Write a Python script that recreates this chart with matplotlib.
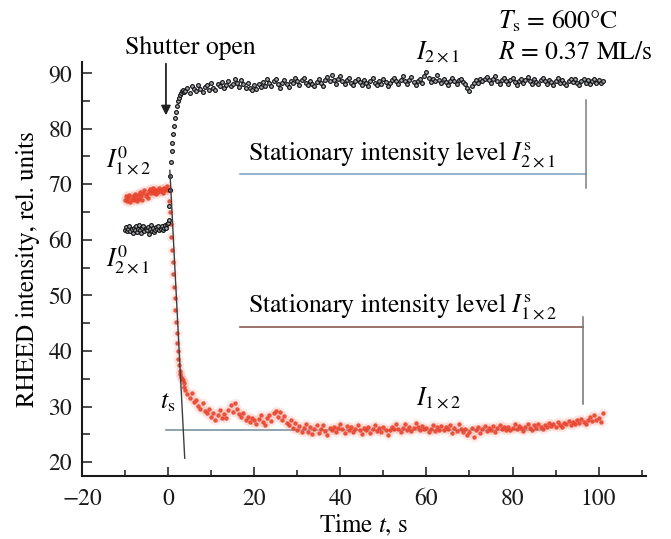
import numpy as np
import matplotlib
matplotlib.use("Agg")
import matplotlib.pyplot as plt
from matplotlib.ticker import MultipleLocator

plt.rcParams['font.family'] = ['STIXGeneral', 'DejaVu Serif']
plt.rcParams['mathtext.fontset'] = 'stix'

# ---------------- data ----------------
# pre-shutter samples (t = -10 ... 0, step 0.25)
t_pre = np.arange(-10.0, 0.001, 0.25)
black_pre = [61.8, 62.3, 61.5, 61.9, 62.4, 61.6, 62.0, 61.3, 62.2, 61.7, 62.5,
             61.4, 61.9, 62.6, 61.8, 61.2, 62.1, 62.4, 61.5, 62.0, 61.7, 62.3,
             61.1, 61.9, 62.6, 61.6, 62.2, 61.4, 61.8, 62.3, 61.9, 62.5, 61.7,
             62.0, 62.4, 61.8, 62.2, 62.7, 62.1, 62.8, 63.0]
red_pre = [67.2, 67.8, 67.0, 67.5, 68.1, 66.8, 67.4, 67.9, 67.1, 68.3, 67.6,
           66.9, 68.0, 67.4, 68.6, 67.8, 67.2, 68.4, 68.9, 67.9, 68.3, 67.6,
           68.8, 69.2, 68.4, 68.7, 69.3, 68.5, 68.9, 68.2, 69.0, 68.6, 69.4,
           68.8, 69.1, 68.5, 69.3, 68.9, 69.2, 69.6, 69.0]

# transition after shutter opening
t_rise_black = [0.1, 0.25, 0.4, 0.55, 0.7, 0.85, 1.0, 1.2, 1.4, 1.6, 1.8, 2.0,
                2.25, 2.5, 2.75, 3.0, 3.25, 3.5, 3.75]
black_rise = [63.5, 66.0, 69.0, 71.5, 74.0, 76.0, 77.5, 79.0, 80.5, 82.0, 83.0,
              84.0, 85.0, 85.5, 86.0, 86.5, 86.8, 87.0, 86.6]
t_fall_red = [0.15, 0.3, 0.45, 0.6, 0.75, 0.9, 1.05, 1.2, 1.35, 1.5, 1.65, 1.8,
              1.95, 2.1, 2.25, 2.4, 2.55, 2.7, 2.85, 3.0, 3.2, 3.4, 3.6, 3.8]
red_fall = [69.0, 67.0, 65.0, 62.8, 60.5, 58.2, 56.0, 53.8, 51.6, 49.5, 47.3,
            45.2, 43.3, 41.5, 40.0, 38.6, 37.4, 36.4, 35.8, 35.4, 35.0, 34.7,
            34.2, 33.6]

# stationary part (t = 4 ... 101, step 0.5)
t_post = np.arange(4.0, 101.001, 0.5)
black_post = [
    86.8, 87.4, 86.5, 87.6, 87.1, 86.7, 87.8, 87.2, 86.6, 87.5,
    87.9, 87.0, 88.2, 87.4, 86.9, 88.0, 87.6, 88.4, 87.3, 87.9,
    88.6, 87.7, 88.1, 89.0, 88.3, 87.5, 88.7, 88.0, 87.4, 88.2,
    87.3, 86.9, 87.8, 87.2, 88.1, 87.5, 88.4, 87.7, 88.9, 88.2,
    87.6, 88.5, 88.9, 88.0, 87.4, 88.3, 88.8, 88.1, 87.5, 88.6,
    88.2, 89.1, 88.5, 87.8, 88.7, 89.2, 88.3, 87.9, 88.6, 88.0,
    87.6, 88.4, 89.0, 88.2, 87.7, 88.8, 89.3, 88.5, 89.6, 88.7,
    88.1, 88.9, 89.4, 88.6, 88.0, 88.7, 89.2, 88.3, 87.8, 88.5,
    89.0, 88.4, 87.9, 88.8, 88.2, 87.6, 88.5, 89.1, 88.3, 87.9,
    88.6, 88.1, 88.9, 88.4, 87.7, 88.3, 88.8, 89.2, 88.5, 88.0,
    88.7, 89.4, 88.6, 88.1, 88.8, 89.3, 88.4, 87.9, 88.6, 89.0,
    88.3, 89.5, 90.2, 89.1, 88.4, 89.0, 88.6, 89.7, 88.8, 88.2,
    88.9, 88.4, 87.9, 88.5, 89.1, 88.6, 88.0, 88.7, 89.0, 88.4,
    88.1, 87.4, 86.8, 87.6, 88.3, 88.8, 88.2, 89.0, 88.5, 88.9,
    89.3, 88.7, 88.2, 88.9, 89.4, 88.6, 88.1, 88.8, 89.2, 88.5,
    88.0, 88.7, 89.1, 88.4, 87.9, 88.6, 89.0, 88.3, 88.8, 89.3,
    88.6, 88.1, 88.9, 88.4, 88.0, 88.7, 89.2, 88.5, 88.1, 88.8,
    88.4, 87.9, 88.6, 89.1, 88.3, 88.8, 88.2, 87.8, 88.5, 89.0,
    88.4, 88.9, 88.3, 87.9, 88.6, 89.0, 88.2, 88.7, 88.1, 88.5,
    88.9, 88.3, 88.7, 88.2, 88.6]
red_post = [
    33.0, 32.2, 31.5, 32.4, 30.8, 31.2, 30.1, 29.5, 30.6, 29.2,
    28.8, 29.6, 28.1, 28.9, 27.6, 28.4, 29.3, 28.0, 28.7, 27.9,
    29.4, 30.2, 29.1, 30.6, 29.5, 28.6, 28.1, 28.9, 27.5, 28.2,
    27.3, 28.0, 27.6, 26.9, 27.8, 28.4, 27.2, 26.7, 27.9, 28.5,
    27.4, 28.8, 29.2, 28.1, 29.0, 27.6, 28.3, 27.1, 26.6, 27.5,
    26.2, 27.0, 25.8, 26.5, 25.4, 26.1, 26.8, 25.5, 26.3, 25.1,
    25.9, 26.6, 25.3, 26.0, 26.7, 25.6, 24.9, 26.2, 25.7, 26.4,
    25.5, 26.1, 26.8, 25.9, 25.2, 26.5, 25.8, 26.3, 25.4, 26.0,
    26.6, 25.7, 25.1, 26.2, 25.8, 26.4, 25.3, 25.9, 26.7, 25.6,
    26.1, 25.4, 26.3, 25.8, 24.9, 25.7, 26.4, 25.9, 26.8, 26.0,
    25.5, 26.2, 26.9, 25.8, 26.4, 25.6, 26.1, 27.0, 26.3, 25.7,
    26.5, 25.9, 26.2, 25.4, 26.0, 26.7, 25.6, 26.3, 25.8, 26.5,
    25.7, 26.4, 25.9, 26.6, 25.3, 26.1, 25.6, 26.8, 26.0, 25.4,
    25.9, 24.8, 25.5, 26.2, 24.6, 25.8, 26.4, 25.2, 25.9, 26.5,
    25.6, 26.2, 25.8, 26.5, 25.4, 26.1, 26.7, 25.9, 26.3, 25.7,
    26.4, 25.8, 26.2, 26.8, 25.9, 26.5, 26.1, 25.6, 26.3, 26.9,
    26.2, 25.8, 26.6, 26.1, 26.8, 26.3, 25.9, 26.7, 26.4, 27.0,
    26.5, 26.9, 26.3, 27.2, 26.7, 26.4, 27.1, 26.8, 27.4, 26.6,
    27.2, 26.9, 27.5, 27.0, 27.7, 27.3, 26.8, 27.6, 28.1, 27.4,
    28.4, 27.6, 27.9, 27.2, 28.8]

# guide lines (data coordinates)
ts_level = 25.8
ts_level_t = [-0.5, 86.6]
ts_slope_t = [0.4, 3.86]
ts_slope_y = [72.5, 20.7]
stat21_level = 71.8
stat21_t = [16.6, 97.1]
stat21_vert = [69.3, 85.1]
stat12_level = 44.3
stat12_t = [16.6, 96.4]
stat12_vert = [30.5, 46.1]

# ---------------- figure ----------------
fig = plt.figure(figsize=(6.71, 5.39), dpi=100)
ax = fig.add_axes([82/671, 63/539, 564/671, 414/539])
ax.set_xlim(-20, 111)
ax.set_ylim(17.5, 92)

t_black = np.concatenate([t_pre, t_rise_black, t_post])
y_black = np.concatenate([black_pre, black_rise, black_post])
t_red = np.concatenate([t_pre, t_fall_red, t_post])
y_red = np.concatenate([red_pre, red_fall, red_post])

# guide lines
ax.plot(ts_level_t, [ts_level, ts_level], color='#7d939e', lw=1.2, zorder=1)
ax.plot(stat21_t, [stat21_level, stat21_level], color='#86a6c4', lw=1.2, zorder=1)
ax.plot([stat21_t[1]] * 2, stat21_vert, color='#7a7f84', lw=1.1, zorder=1)
ax.plot(stat12_t, [stat12_level, stat12_level], color='#8a5a50', lw=1.2, zorder=1)
ax.plot([stat12_t[1]] * 2, stat12_vert, color='#6f7175', lw=1.1, zorder=1)

# red series (halo + points)
ax.plot(t_red, y_red, 'o', ms=7.0, color='#f3a090', alpha=0.22, mec='none', zorder=2)
ax.plot(t_red, y_red, 'o', ms=3.2, color='#e8432d', alpha=0.9, mec='none', zorder=3)
# black series
ax.plot(t_black, y_black, 'o', ms=2.7, mfc='#a8b0b4', mec='#111111', mew=0.85, zorder=3)

ax.plot(ts_slope_t, ts_slope_y, color='#3a3f44', lw=1.0, zorder=4)

# annotations
ax.annotate('', xy=(-0.5, 81.9), xytext=(-0.5, 92.2),
            arrowprops=dict(arrowstyle='-|>', color='#222222', lw=1.3,
                            mutation_scale=14), annotation_clip=False)
fs = 18.5
ax.text(5.2, 94.6, 'Shutter open', fontsize=fs, ha='center', va='center', clip_on=False)
ax.text(18.5, 74.3, r'Stationary intensity level $I^{\mathrm{s}}_{2\times1}$',
        fontsize=fs, ha='left', va='baseline')
ax.text(18.5, 47.0, r'Stationary intensity level $I^{\mathrm{s}}_{1\times2}$',
        fontsize=fs, ha='left', va='baseline')
ax.text(57.5, 30.2, r'$I_{1\times2}$', fontsize=fs, ha='left', va='baseline')
ax.text(57.5, 92.5, r'$I_{2\times1}$', fontsize=fs, ha='left', va='baseline', clip_on=False)
ax.text(76.6, 98.1, r'$T_{\mathrm{s}}$ = 600°C', fontsize=fs, ha='left', va='baseline', clip_on=False)
ax.text(76.6, 92.5, r'$R$ = 0.37 ML/s', fontsize=fs, ha='left', va='baseline', clip_on=False)
ax.text(-14.4, 72.9, r'$I^{0}_{1\times2}$', fontsize=fs, ha='left', va='baseline')
ax.text(-14.4, 55.1, r'$I^{0}_{2\times1}$', fontsize=fs, ha='left', va='baseline')
ax.text(-1.9, 29.6, r'$t_{\mathrm{s}}$', fontsize=fs, ha='left', va='baseline')

# axes styling
for s in ['top', 'right']:
    ax.spines[s].set_visible(False)
for s in ['left', 'bottom']:
    ax.spines[s].set_linewidth(1.5)
    ax.spines[s].set_color('#1a1a1a')

ax.xaxis.set_major_locator(MultipleLocator(20))
ax.xaxis.set_minor_locator(MultipleLocator(10))
ax.yaxis.set_major_locator(MultipleLocator(10))
ax.yaxis.set_minor_locator(MultipleLocator(5))
ax.set_yticks(np.arange(20, 91, 10))
ax.tick_params(axis='both', which='both', direction='in', colors='#1a1a1a',
               width=1.1, labelsize=17)
ax.tick_params(axis='x', which='major', length=6.5, pad=9)
ax.tick_params(axis='x', which='minor', length=4.5)
ax.tick_params(axis='y', which='major', length=7, pad=7)
ax.tick_params(axis='y', which='minor', length=6)

ax.set_xlabel(r'Time $t$, s', fontsize=18, labelpad=2)
ax.set_ylabel('RHEED intensity, rel. units', fontsize=18, labelpad=6)

fig.savefig('out.png', dpi=100)
